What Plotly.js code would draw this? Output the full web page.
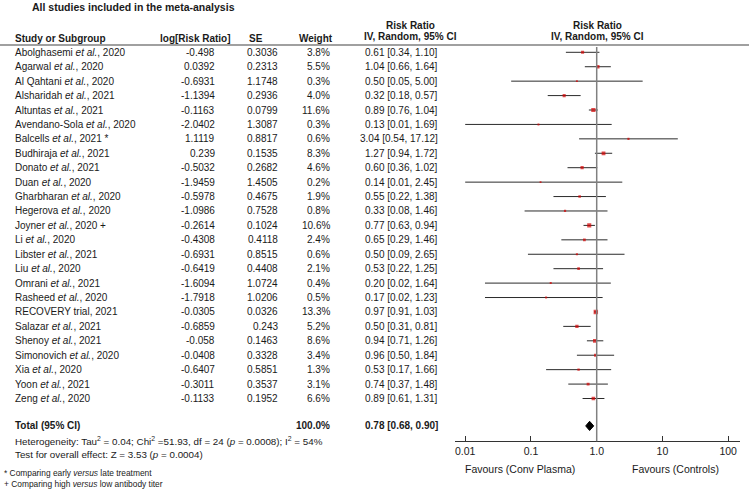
<!DOCTYPE html>
<html>
<head>
<meta charset="utf-8">
<script src="https://cdn.plot.ly/plotly-3.0.1.min.js"></script>
<style>
  html, body { margin: 0; padding: 0; background: #fff; }
  #chart { width: 749px; height: 491px; }
</style>
</head>
<body>
<div id="chart"></div>
<script>
// forest plot data, one entry per study
var studies = [
    'Abolghasemi <i>et al.</i>, 2020', 'Agarwal <i>et al.</i>, 2020', 'Al Qahtani <i>et al.</i>, 2020',
    'Alsharidah <i>et al.</i>, 2021', 'Altuntas <i>et al.</i>, 2021', 'Avendano-Sola <i>et al.</i>, 2020',
    'Balcells <i>et al.</i>, 2021 *', 'Budhiraja <i>et al.</i>, 2021', 'Donato <i>et al.</i>, 2021',
    'Duan <i>et al.</i>, 2020', 'Gharbharan <i>et al.</i>, 2020', 'Hegerova <i>et al.</i>, 2020',
    'Joyner <i>et al.</i>, 2020 +', 'Li <i>et al.</i>, 2020', 'Libster <i>et al.</i>, 2021',
    'Liu <i>et al.</i>, 2020', 'Omrani <i>et al.</i>, 2021', 'Rasheed <i>et al.</i>, 2020',
    'RECOVERY trial, 2021', 'Salazar <i>et al.</i>, 2021', 'Shenoy <i>et al.</i>, 2021',
    'Simonovich <i>et al.</i>, 2020', 'Xia <i>et al.</i>, 2020', 'Yoon <i>et al.</i>, 2021',
    'Zeng <i>et al.</i>, 2020'
];
var logRR = ['-0.498', '0.0392', '-0.6931', '-1.1394', '-0.1163', '-2.0402', '1.1119', '0.239', '-0.5032',
    '-1.9459', '-0.5978', '-1.0986', '-0.2614', '-0.4308', '-0.6931', '-0.6419', '-1.6094', '-1.7918',
    '-0.0305', '-0.6859', '-0.058', '-0.0408', '-0.6407', '-0.3011', '-0.1133'];
var se = ['0.3036', '0.2313', '1.1748', '0.2936', '0.0799', '1.3087', '0.8817', '0.1535', '0.2682',
    '1.4505', '0.4675', '0.7528', '0.1024', '0.4118', '0.8515', '0.4408', '1.0724', '1.0206',
    '0.0326', '0.243', '0.1463', '0.3328', '0.5851', '0.3537', '0.1952'];
var weight = [3.8, 5.5, 0.3, 4.0, 11.6, 0.3, 0.6, 8.3, 4.6, 0.2, 1.9, 0.8, 10.6, 2.4, 0.6, 2.1, 0.4, 0.5,
    13.3, 5.2, 8.6, 3.4, 1.3, 3.1, 6.6];
var rr = [0.61, 1.04, 0.50, 0.32, 0.89, 0.13, 3.04, 1.27, 0.60, 0.14, 0.55, 0.33, 0.77, 0.65, 0.50, 0.53,
    0.20, 0.17, 0.97, 0.50, 0.94, 0.96, 0.53, 0.74, 0.89];
var ciLow = [0.34, 0.66, 0.05, 0.18, 0.76, 0.01, 0.54, 0.94, 0.36, 0.01, 0.22, 0.08, 0.63, 0.29, 0.09, 0.22,
    0.02, 0.02, 0.91, 0.31, 0.71, 0.50, 0.17, 0.37, 0.61];
var ciHigh = [1.10, 1.64, 5.00, 0.57, 1.04, 1.69, 17.12, 1.72, 1.02, 2.45, 1.38, 1.46, 0.94, 1.46, 2.65, 1.25,
    1.64, 1.23, 1.03, 0.81, 1.26, 1.84, 1.66, 1.48, 1.31];

var totalRR = 0.78, totalLow = 0.68, totalHigh = 0.90;
var totalWeight = '100.0%';

var tickVals = [0.01, 0.1, 1, 10, 100];
var tickText = ['0.01', '0.1', '1.0', '10', '100'];

var W = 749, H = 491;
var FONT = 'Arial, "Liberation Sans", sans-serif';
var TXT = '#1a1a1a';
var totalRow = 25.9;

function px(x) { return x / W; }
function py(y) { return 1 - y / H; }
function fmt(v) { return v.toFixed(2); }

var rows = studies.map(function (s, i) { return i; });

// CI whiskers as one line trace with gaps
var lx = [], ly = [];
rows.forEach(function (i) {
    lx.push(ciLow[i], ciHigh[i], null);
    ly.push(i, i, null);
});

var traces = [
    {
        x: lx, y: ly, type: 'scatter', mode: 'lines',
        line: { color: '#2b2b2b', width: 1 },
        hoverinfo: 'skip', showlegend: false
    },
    {
        x: rr, y: rows, type: 'scatter', mode: 'markers',
        marker: {
            symbol: 'square', color: '#d40000',
            size: weight.map(function (w) { return 1.5 + Math.sqrt(w) * 0.8; }),
            line: { width: 0 }
        },
        showlegend: false
    },
    {
        // pooled estimate diamond
        x: [totalLow, totalRR, totalHigh, totalRR, totalLow],
        y: [totalRow, totalRow - 0.32, totalRow, totalRow + 0.32, totalRow],
        type: 'scatter', mode: 'lines', fill: 'toself',
        fillcolor: '#000', line: { color: '#000', width: 1 },
        showlegend: false
    }
];

var ann = [];
function addText(text, x, y, anchor, opts) {
    opts = opts || {};
    ann.push({
        text: text, x: px(x), xref: 'paper',
        y: opts.yref === 'y' ? y : py(y), yref: opts.yref || 'paper',
        xanchor: anchor, yanchor: 'middle', showarrow: false,
        font: { family: FONT, size: opts.size || 10, color: TXT }
    });
}

// title and column headers
addText('<b>All studies included in the meta-analysis</b>', 30, 7, 'left', { size: 10.5 });
addText('<b>Study or Subgroup</b>', 13, 38, 'left');
addText('<b>log[Risk Ratio]</b>', 196, 38, 'center');
addText('<b>SE</b>', 256, 38, 'center');
addText('<b>Weight</b>', 316, 38, 'center');
addText('<b>Risk Ratio</b>', 410, 25, 'center');
addText('<b>IV, Random, 95% CI</b>', 410, 37, 'center');
addText('<b>Risk Ratio</b>', 597, 25, 'center');
addText('<b>IV, Random, 95% CI</b>', 597, 37, 'center');

// study rows
rows.forEach(function (i) {
    addText(studies[i], 13, i, 'left', { yref: 'y' });
    addText(logRR[i], 217, i, 'right', { yref: 'y' });
    addText(se[i], 280, i, 'right', { yref: 'y' });
    addText(weight[i].toFixed(1) + '%', 332, i, 'right', { yref: 'y' });
    addText(fmt(rr[i]) + ' [' + fmt(ciLow[i]) + ', ' + fmt(ciHigh[i]) + ']', 440, i, 'right', { yref: 'y' });
});

// total row
addText('<b>Total (95% CI)</b>', 13, totalRow, 'left', { yref: 'y' });
addText('<b>' + totalWeight + '</b>', 332, totalRow, 'right', { yref: 'y' });
addText('<b>' + fmt(totalRR) + ' [' + fmt(totalLow) + ', ' + fmt(totalHigh) + ']</b>', 440, totalRow, 'right', { yref: 'y' });

addText('Heterogeneity: Tau<sup>2</sup> = 0.04; Chi<sup>2</sup> =51.93, df = 24 (<i>p</i> = 0.0008); I<sup>2</sup> = 54%', 13, 441, 'left', { size: 9.8 });
addText('Test for overall effect: Z = 3.53 (<i>p</i> = 0.0004)', 13, 454, 'left', { size: 9.8 });
addText('* Comparing early <i>versus</i> late treatment', 2, 473, 'left', { size: 8.4 });
addText('+ Comparing high <i>versus</i> low antibody titer', 2, 484, 'left', { size: 8.4 });

addText('Favours (Conv Plasma)', 520, 469, 'center', { size: 10.5 });
addText('Favours (Controls)', 675, 469, 'center', { size: 10.5 });

// log scale: 1.0 at x=596.7px, 65.75 px per decade
var decade = 65.75, onePx = 596.7;
var xLeft = 455, xRight = 740;

var layout = {
    width: W, height: H,
    margin: { l: 0, r: 0, t: 0, b: 0 },
    paper_bgcolor: '#fff', plot_bgcolor: '#fff',
    showlegend: false,
    xaxis: {
        type: 'log',
        domain: [px(xLeft), px(xRight)],
        range: [(xLeft - onePx) / decade, (xRight - onePx) / decade],
        tickvals: tickVals, ticktext: tickText,
        ticks: 'inside', ticklen: 5, tickwidth: 1, tickcolor: '#333',
        showline: true, linecolor: '#333', linewidth: 1,
        showgrid: false, zeroline: false,
        tickfont: { family: FONT, size: 10.5, color: TXT },
        fixedrange: true
    },
    yaxis: {
        domain: [py(441.3), py(45)],
        range: [(441.3 - 52.3) / 14.425, (45 - 52.3) / 14.425],
        visible: false, showgrid: false, zeroline: false,
        fixedrange: true
    },
    shapes: [
        // header rule
        { type: 'line', xref: 'paper', yref: 'paper', x0: 0, x1: 1, y0: py(45), y1: py(45),
          line: { color: '#808080', width: 1.5 } },
        // line of no effect
        { type: 'line', xref: 'x', yref: 'paper', x0: 1, x1: 1, y0: py(441.3), y1: py(47),
          line: { color: '#808080', width: 1.5 } }
    ],
    annotations: ann
};

Plotly.newPlot('chart', traces, layout, { displayModeBar: false, staticPlot: true });
</script>
</body>
</html>
